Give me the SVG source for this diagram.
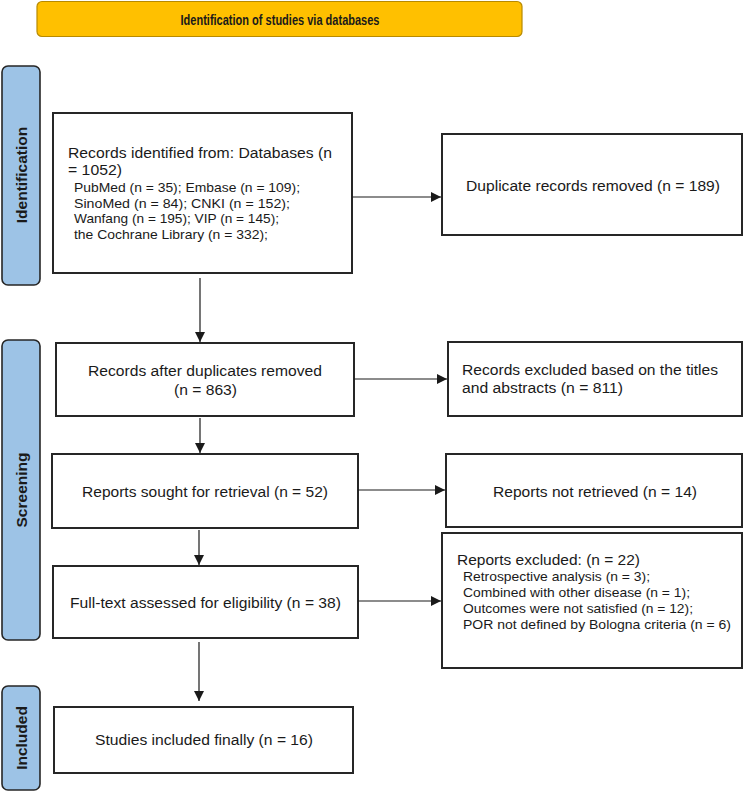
<svg xmlns="http://www.w3.org/2000/svg" width="744" height="792" viewBox="0 0 744 792">
<style>
  .box { fill: #ffffff; stroke: #262626; stroke-width: 2; }
  .phase { fill: #9dc3e6; stroke: #262626; stroke-width: 1.6; }
  .t { font-family: "Liberation Sans", Arial, sans-serif; fill: #1a1a1a; }
  .m { font-size: 15.4px; }
  .s { font-size: 13.6px; }
  .ph { font-family: "Liberation Sans", Arial, sans-serif; font-weight: bold; font-size: 15.5px; fill: #1a1a1a; text-anchor: middle; }
  .c { text-anchor: middle; }
  .conn { stroke: #1a1a1a; stroke-width: 1.2; fill: none; marker-end: url(#ah); }
</style>
<defs>
  <marker id="ah" viewBox="0 0 10 10" refX="10" refY="5" markerWidth="10" markerHeight="10" markerUnits="userSpaceOnUse" orient="auto">
    <path d="M0,0 L10,5 L0,10 z" fill="#1a1a1a"/>
  </marker>
</defs>
<rect width="744" height="792" fill="#ffffff"/>

<g id="banner">
  <rect x="37" y="1.5" width="485" height="35" rx="5" fill="#ffc000" stroke="#b88a00" stroke-width="1.2"/>
  <text class="t" x="280" y="24.5" text-anchor="middle" font-size="15" font-weight="bold" textLength="199" lengthAdjust="spacingAndGlyphs">Identification of studies via databases</text>
</g>

<g id="phase-identification">
  <rect class="phase" x="2" y="66" width="38" height="219" rx="6"/>
  <text class="ph" transform="translate(26.5,175) rotate(-90)">Identification</text>
</g>
<g id="phase-screening">
  <rect class="phase" x="2" y="340" width="38" height="300" rx="6"/>
  <text class="ph" transform="translate(26.5,490) rotate(-90)">Screening</text>
</g>
<g id="phase-included">
  <rect class="phase" x="2" y="686" width="38" height="104" rx="6"/>
  <text class="ph" transform="translate(26.5,738) rotate(-90)">Included</text>
</g>

<g id="records-identified">
  <rect class="box" x="53" y="113" width="299" height="160"/>
  <text class="t m" x="68" y="158" textLength="264" lengthAdjust="spacingAndGlyphs">Records identified from: Databases (n</text>
  <text class="t m" x="68" y="175" textLength="54" lengthAdjust="spacingAndGlyphs">= 1052)</text>
  <text class="t s" x="74" y="192" textLength="226" lengthAdjust="spacingAndGlyphs">PubMed (n = 35); Embase (n = 109);</text>
  <text class="t s" x="74" y="207.5" textLength="216" lengthAdjust="spacingAndGlyphs">SinoMed (n = 84); CNKI (n = 152);</text>
  <text class="t s" x="74" y="223" textLength="205" lengthAdjust="spacingAndGlyphs">Wanfang (n = 195); VIP (n = 145);</text>
  <text class="t s" x="74" y="238.5" textLength="194" lengthAdjust="spacingAndGlyphs">the Cochrane Library (n = 332);</text>
</g>

<g id="duplicates-removed">
  <rect class="box" x="442" y="134" width="300" height="101"/>
  <text class="t m c" x="593" y="191" textLength="254" lengthAdjust="spacingAndGlyphs">Duplicate records removed (n = 189)</text>
</g>

<g id="records-after">
  <rect class="box" x="56" y="343" width="298" height="73"/>
  <text class="t m c" x="205" y="376" textLength="234" lengthAdjust="spacingAndGlyphs">Records after duplicates removed</text>
  <text class="t m c" x="205.5" y="395" textLength="63" lengthAdjust="spacingAndGlyphs">(n = 863)</text>
</g>

<g id="records-excluded">
  <rect class="box" x="448" y="342" width="294" height="74"/>
  <text class="t m" x="462" y="375" textLength="256" lengthAdjust="spacingAndGlyphs">Records excluded based on the titles</text>
  <text class="t m" x="462" y="393" textLength="161" lengthAdjust="spacingAndGlyphs">and abstracts (n = 811)</text>
</g>

<g id="reports-sought">
  <rect class="box" x="52" y="454" width="306" height="74"/>
  <text class="t m c" x="205" y="497" textLength="246" lengthAdjust="spacingAndGlyphs">Reports sought for retrieval (n = 52)</text>
</g>

<g id="reports-not-retrieved">
  <rect class="box" x="446" y="454" width="296" height="73"/>
  <text class="t m c" x="595" y="497" textLength="204" lengthAdjust="spacingAndGlyphs">Reports not retrieved (n = 14)</text>
</g>

<g id="full-text">
  <rect class="box" x="53" y="566" width="305" height="72"/>
  <text class="t m c" x="205.5" y="608" textLength="271" lengthAdjust="spacingAndGlyphs">Full-text assessed for eligibility (n = 38)</text>
</g>

<g id="reports-excluded">
  <rect class="box" x="442" y="533" width="300" height="135"/>
  <text class="t m" x="457" y="565" textLength="183" lengthAdjust="spacingAndGlyphs">Reports excluded: (n = 22)</text>
  <text class="t s" x="463" y="581" textLength="187" lengthAdjust="spacingAndGlyphs">Retrospective analysis (n = 3);</text>
  <text class="t s" x="463" y="597" textLength="227" lengthAdjust="spacingAndGlyphs">Combined with other disease (n = 1);</text>
  <text class="t s" x="463" y="613" textLength="230" lengthAdjust="spacingAndGlyphs">Outcomes were not satisfied (n = 12);</text>
  <text class="t s" x="463" y="628.5" textLength="268" lengthAdjust="spacingAndGlyphs">POR not defined by Bologna criteria (n = 6)</text>
</g>

<g id="studies-included">
  <rect class="box" x="54" y="707" width="299" height="66"/>
  <text class="t m c" x="204" y="745" textLength="218" lengthAdjust="spacingAndGlyphs">Studies included finally (n = 16)</text>
</g>

<g id="connectors">
  <line class="conn" x1="352" y1="197" x2="441" y2="197"/>
  <line class="conn" x1="200" y1="278" x2="200" y2="342"/>
  <line class="conn" x1="354" y1="379" x2="447" y2="379"/>
  <line class="conn" x1="200" y1="418" x2="200" y2="453"/>
  <line class="conn" x1="358" y1="490" x2="445" y2="490"/>
  <line class="conn" x1="199" y1="530" x2="199" y2="565"/>
  <line class="conn" x1="358" y1="601" x2="441" y2="601"/>
  <line class="conn" x1="199" y1="642" x2="199" y2="701"/>
</g>
</svg>
